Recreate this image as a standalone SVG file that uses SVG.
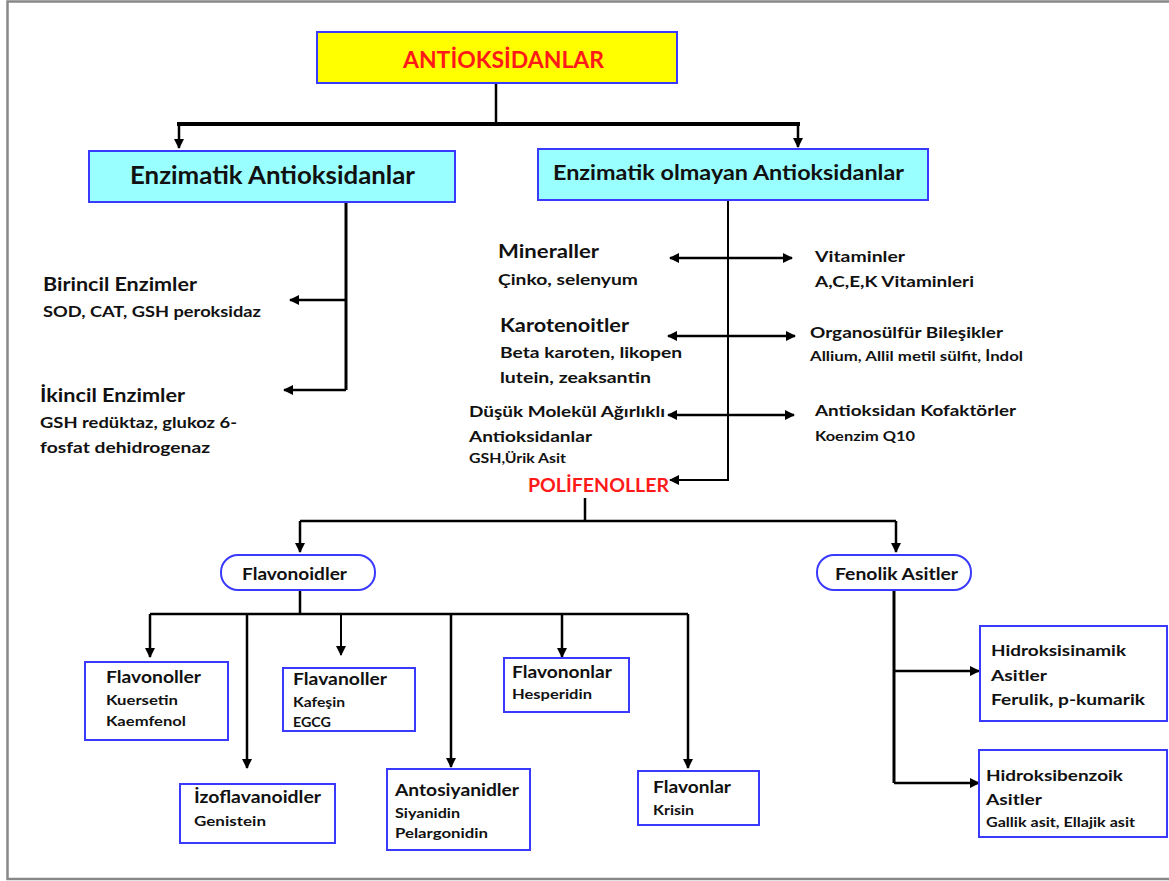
<svg xmlns="http://www.w3.org/2000/svg" width="1169" height="881" viewBox="0 0 1169 881">
<style>
text{font-family:Lato,"Open Sans","Liberation Sans",sans-serif;font-weight:bold;fill:#111}
.t{font-size:19.5px}
.s{font-size:15.5px}
.xs{font-size:14px}
.red{fill:#ff1a1a}
.box{fill:#fff;stroke:#3a3aff;stroke-width:2}
.c{fill:none;stroke:#000;stroke-width:2.5}
</style>
<defs>
<marker id="ah" viewBox="0 0 10 10" refX="9" refY="5" markerWidth="10" markerHeight="10" markerUnits="userSpaceOnUse" orient="auto-start-reverse">
<path d="M0,0L10,5L0,10z" fill="#000"/>
</marker>
</defs>
<rect x="0" y="0" width="1169" height="881" fill="#fff"/>
<path d="M1169,1.5H7.5V879H1169" fill="none" stroke="#888" stroke-width="2.5"/>

<g id="connectors">
<path class="c" d="M496,83V124"/>
<path class="c" style="stroke-width:4" d="M177,124H800"/>
<path class="c" d="M179,124V148" marker-end="url(#ah)"/>
<path class="c" d="M798,124V147" marker-end="url(#ah)"/>
<path class="c" style="stroke-width:3" d="M346,202V390"/>
<path class="c" d="M346,300H290" marker-end="url(#ah)"/>
<path class="c" d="M346,390H284" marker-end="url(#ah)"/>
<path class="c" style="stroke-width:2" d="M728,200V480H670" marker-end="url(#ah)"/>
<path class="c" d="M670,258H792" marker-start="url(#ah)" marker-end="url(#ah)"/>
<path class="c" d="M668,336H795" marker-start="url(#ah)" marker-end="url(#ah)"/>
<path class="c" d="M668,415H794" marker-start="url(#ah)" marker-end="url(#ah)"/>
<path class="c" d="M585,498V521"/>
<path class="c" d="M300,521H896"/>
<path class="c" d="M300,521V552" marker-end="url(#ah)"/>
<path class="c" d="M896,521V552" marker-end="url(#ah)"/>
<path class="c" d="M300,590V614"/>
<path class="c" d="M150,614H688"/>
<path class="c" d="M150,614V657" marker-end="url(#ah)"/>
<path class="c" d="M247,614V768" marker-end="url(#ah)"/>
<path class="c" style="stroke-width:2" d="M341,614V655" marker-end="url(#ah)"/>
<path class="c" d="M451,614V767" marker-end="url(#ah)"/>
<path class="c" d="M562,614V657" marker-end="url(#ah)"/>
<path class="c" d="M688,614V768" marker-end="url(#ah)"/>
<path class="c" style="stroke-width:3" d="M894,590V783"/>
<path class="c" d="M894,671H979" marker-end="url(#ah)"/>
<path class="c" d="M894,783H979" marker-end="url(#ah)"/>
</g>

<g id="antioksidanlar">
<rect x="317" y="32" width="360" height="51" fill="#ffff00" stroke="#3a3aff" stroke-width="2"/>
<text class="red" x="403" y="68" font-size="22" textLength="201" lengthAdjust="spacingAndGlyphs">ANTİOKSİDANLAR</text>
</g>
<g id="enzimatik">
<rect x="89" y="151" width="366" height="51" fill="#99ffff" stroke="#3a3aff" stroke-width="2"/>
<text x="130" y="184" font-size="25" textLength="285" lengthAdjust="spacingAndGlyphs">Enzimatik Antioksidanlar</text>
</g>
<g id="enzimatik-olmayan">
<rect x="538" y="149" width="390" height="51" fill="#99ffff" stroke="#3a3aff" stroke-width="2"/>
<text x="553" y="180" font-size="20" textLength="351" lengthAdjust="spacingAndGlyphs">Enzimatik olmayan Antioksidanlar</text>
</g>

<g id="birincil">
<text class="t" x="43" y="291" textLength="154" lengthAdjust="spacingAndGlyphs">Birincil Enzimler</text>
<text class="s" x="43" y="317" textLength="218" lengthAdjust="spacingAndGlyphs">SOD, CAT, GSH peroksidaz</text>
</g>
<g id="ikincil">
<text class="t" x="40" y="402" textLength="145" lengthAdjust="spacingAndGlyphs">İkincil Enzimler</text>
<text class="s" x="40" y="428" textLength="197" lengthAdjust="spacingAndGlyphs">GSH redüktaz, glukoz 6-</text>
<text class="s" x="40" y="453" textLength="170" lengthAdjust="spacingAndGlyphs">fosfat dehidrogenaz</text>
</g>

<g id="mineraller">
<text class="t" x="498" y="258" textLength="101" lengthAdjust="spacingAndGlyphs">Mineraller</text>
<text class="s" x="498" y="285" textLength="140" lengthAdjust="spacingAndGlyphs">Çinko, selenyum</text>
</g>
<g id="karotenoitler">
<text class="t" x="500" y="332" textLength="129" lengthAdjust="spacingAndGlyphs">Karotenoitler</text>
<text class="s" x="500" y="358" textLength="182" lengthAdjust="spacingAndGlyphs">Beta karoten, likopen</text>
<text class="s" x="500" y="383" textLength="151" lengthAdjust="spacingAndGlyphs">lutein, zeaksantin</text>
</g>
<g id="dusuk">
<text class="s" x="469" y="417" font-size="16.5" textLength="196" lengthAdjust="spacingAndGlyphs">Düşük Molekül Ağırlıklı</text>
<text class="s" x="469" y="442" font-size="16.5" textLength="123" lengthAdjust="spacingAndGlyphs">Antioksidanlar</text>
<text class="xs" x="469" y="463" textLength="97" lengthAdjust="spacingAndGlyphs">GSH,Ürik Asit</text>
</g>
<g id="polifenoller">
<text class="red" x="528" y="492" font-size="18" textLength="141" lengthAdjust="spacingAndGlyphs">POLİFENOLLER</text>
</g>
<g id="vitaminler">
<text class="s" x="815" y="262" font-size="16.5" textLength="90" lengthAdjust="spacingAndGlyphs">Vitaminler</text>
<text class="s" x="815" y="287" font-size="16.5" textLength="159" lengthAdjust="spacingAndGlyphs">A,C,E,K Vitaminleri</text>
</g>
<g id="organosulfur">
<text class="s" x="810" y="338" font-size="16.5" textLength="193" lengthAdjust="spacingAndGlyphs">Organosülfür Bileşikler</text>
<text class="xs" x="810" y="361" textLength="213" lengthAdjust="spacingAndGlyphs">Allium, Allil metil sülfit, İndol</text>
</g>
<g id="kofaktorler">
<text class="s" x="815" y="416" font-size="16.5" textLength="201" lengthAdjust="spacingAndGlyphs">Antioksidan Kofaktörler</text>
<text class="xs" x="815" y="441" textLength="100" lengthAdjust="spacingAndGlyphs">Koenzim Q10</text>
</g>

<g id="flavonoidler">
<rect x="221" y="555" width="154" height="35" rx="17" class="box"/>
<text x="242" y="580" font-size="17" textLength="105" lengthAdjust="spacingAndGlyphs">Flavonoidler</text>
</g>
<g id="fenolik-asitler">
<rect x="817" y="555" width="154" height="35" rx="17" class="box"/>
<text x="835" y="580" font-size="17" textLength="123" lengthAdjust="spacingAndGlyphs">Fenolik Asitler</text>
</g>

<g id="flavonoller">
<rect x="85" y="662" width="143" height="78" class="box"/>
<text x="106" y="683" font-size="17" textLength="95" lengthAdjust="spacingAndGlyphs">Flavonoller</text>
<text class="xs" x="106" y="705" textLength="72" lengthAdjust="spacingAndGlyphs">Kuersetin</text>
<text class="xs" x="106" y="726" textLength="80" lengthAdjust="spacingAndGlyphs">Kaemfenol</text>
</g>
<g id="flavanoller">
<rect x="283" y="668" width="132" height="63" class="box"/>
<text x="293" y="685" font-size="17" textLength="94" lengthAdjust="spacingAndGlyphs">Flavanoller</text>
<text class="xs" x="293" y="707" textLength="52" lengthAdjust="spacingAndGlyphs">Kafeşin</text>
<text class="xs" x="293" y="727" textLength="38" lengthAdjust="spacingAndGlyphs">EGCG</text>
</g>
<g id="flavononlar">
<rect x="504" y="658" width="125" height="54" class="box"/>
<text x="512" y="678" font-size="17" textLength="100" lengthAdjust="spacingAndGlyphs">Flavononlar</text>
<text class="xs" x="512" y="699" textLength="80" lengthAdjust="spacingAndGlyphs">Hesperidin</text>
</g>
<g id="izoflavanoidler">
<rect x="180" y="784" width="155" height="59" class="box"/>
<text x="194" y="803" font-size="17" textLength="127" lengthAdjust="spacingAndGlyphs">İzoflavanoidler</text>
<text class="xs" x="194" y="826" textLength="72" lengthAdjust="spacingAndGlyphs">Genistein</text>
</g>
<g id="antosiyanidler">
<rect x="387" y="769" width="143" height="81" class="box"/>
<text x="395" y="796" font-size="17" textLength="124" lengthAdjust="spacingAndGlyphs">Antosiyanidler</text>
<text class="xs" x="395" y="818" textLength="65" lengthAdjust="spacingAndGlyphs">Siyanidin</text>
<text class="xs" x="395" y="838" textLength="93" lengthAdjust="spacingAndGlyphs">Pelargonidin</text>
</g>
<g id="flavonlar">
<rect x="638" y="771" width="121" height="54" class="box"/>
<text x="653" y="793" font-size="17" textLength="78" lengthAdjust="spacingAndGlyphs">Flavonlar</text>
<text class="xs" x="653" y="815" textLength="41" lengthAdjust="spacingAndGlyphs">Krisin</text>
</g>
<g id="hidroksisinamik">
<rect x="980" y="626" width="187" height="95" class="box"/>
<text class="s" x="991" y="656" font-size="16.5" textLength="135" lengthAdjust="spacingAndGlyphs">Hidroksisinamik</text>
<text class="s" x="991" y="681" font-size="16.5" textLength="56" lengthAdjust="spacingAndGlyphs">Asitler</text>
<text class="s" x="991" y="705" font-size="16.5" textLength="154" lengthAdjust="spacingAndGlyphs">Ferulik, p-kumarik</text>
</g>
<g id="hidroksibenzoik">
<rect x="979" y="750" width="188" height="87" class="box"/>
<text class="s" x="986" y="781" font-size="16.5" textLength="137" lengthAdjust="spacingAndGlyphs">Hidroksibenzoik</text>
<text class="s" x="986" y="805" font-size="16.5" textLength="56" lengthAdjust="spacingAndGlyphs">Asitler</text>
<text class="xs" x="986" y="827" textLength="149" lengthAdjust="spacingAndGlyphs">Gallik asit, Ellajik asit</text>
</g>
</svg>
